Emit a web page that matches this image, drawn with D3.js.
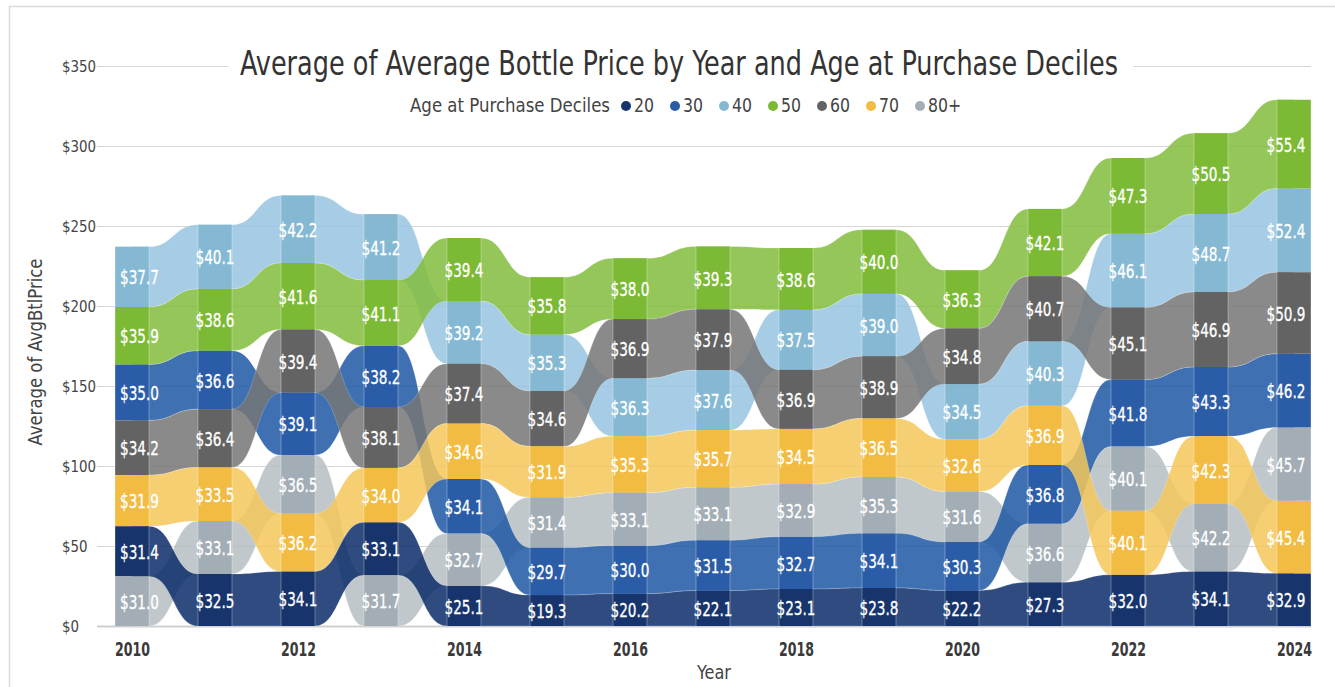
<!DOCTYPE html>
<html>
<head>
<meta charset="utf-8">
<script src="https://cdn.jsdelivr.net/npm/d3@7"></script>
<style>
  body { margin: 0; background: #fff; }
  text { font-family: "Liberation Sans Narrow", "DejaVu Sans Condensed", "Arial Narrow", sans-serif; }
</style>
</head>
<body>
<div id="chart"></div>
<script>
// Data
var years = [2010, 2011, 2012, 2013, 2014, 2015, 2016, 2017, 2018, 2019, 2020, 2021, 2022, 2023, 2024];
var deciles = ["20", "30", "40", "50", "60", "70", "80+"];
var price20  = [31.4, 32.5, 34.1, 33.1, 25.1, 19.3, 20.2, 22.1, 23.1, 23.8, 22.2, 27.3, 32.0, 34.1, 32.9];
var price30  = [35.0, 36.6, 39.1, 38.2, 34.1, 29.7, 30.0, 31.5, 32.7, 34.1, 30.3, 36.8, 41.8, 43.3, 46.2];
var price40  = [37.7, 40.1, 42.2, 41.2, 39.2, 35.3, 36.3, 37.6, 37.5, 39.0, 34.5, 40.3, 46.1, 48.7, 52.4];
var price50  = [35.9, 38.6, 41.6, 41.1, 39.4, 35.8, 38.0, 39.3, 38.6, 40.0, 36.3, 42.1, 47.3, 50.5, 55.4];
var price60  = [34.2, 36.4, 39.4, 38.1, 37.4, 34.6, 36.9, 37.9, 36.9, 38.9, 34.8, 40.7, 45.1, 46.9, 50.9];
var price70  = [31.9, 33.5, 36.2, 34.0, 34.6, 31.9, 35.3, 35.7, 34.5, 36.5, 32.6, 36.9, 40.1, 42.3, 45.4];
var price80p = [31.0, 33.1, 36.5, 31.7, 32.7, 31.4, 33.1, 33.1, 32.9, 35.3, 31.6, 36.6, 40.1, 42.2, 45.7];
var yTicks = [0, 50, 100, 150, 200, 250, 300, 350];
var xTicks = [2010, 2012, 2014, 2016, 2018, 2020, 2022, 2024];

var values = [price20, price30, price40, price50, price60, price70, price80p];

// Colours
var barColor    = ["#17346c", "#2a5ca8", "#85b9d3", "#7cb934", "#636363", "#f2bb41", "#a3adb5"];
var ribbonColor = ["#0a2c68", "#1d57a3", "#96c4e0", "#82bc3d", "#757575", "#f3c759", "#b5bec3"];
var ribbonOrder = [2, 6, 1, 3, 4, 5, 0]; // last drawn sits on top

var W = 1335, H = 687;
var left = 97, right = 1311, barW = 34;

var svg = d3.select("#chart").append("svg")
    .attr("width", W)
    .attr("height", H);

// squeeze text horizontally to a condensed look
function squeeze(sel, target) {
    sel.each(function() {
        var w = this.getComputedTextLength();
        d3.select(this).attr("textLength", typeof target === "function" ? target(w) : target)
            .attr("lengthAdjust", "spacingAndGlyphs");
    });
}
function ratio(sample, size, weight, target) {
    var t = svg.append("text").style("font-size", size + "px").style("font-weight", weight).text(sample);
    var w = t.node().getComputedTextLength();
    t.remove();
    return target / w;
}

// frame
svg.append("rect")
    .attr("x", 9.5).attr("y", 6.5)
    .attr("width", 1340).attr("height", 700)
    .attr("fill", "none")
    .attr("stroke", "#dcdcdc")
    .attr("stroke-width", 1.5);

// Scales
var x = d3.scaleLinear().domain([2010, 2024]).range([132, 1294]);
var y = d3.scaleLinear().domain([0, 350]).range([626, 66]);

// Y axis with gridlines
var yr = ratio("$350", 16.5, "normal", 34);
var yAxis = svg.append("g")
    .attr("transform", "translate(" + left + ",0)")
    .call(d3.axisLeft(y).tickValues(yTicks).tickSize(-(right - left)).tickPadding(0)
        .tickFormat(d => "$" + d));
yAxis.select(".domain").remove();
yAxis.selectAll(".tick line")
    .attr("stroke", d => d === 0 ? "#cfcfcf" : "#d6d6d6")
    .attr("stroke-width", d => d === 0 ? 2 : 1);
yAxis.selectAll(".tick text")
    .attr("x", 62 - left)
    .attr("dy", "0.35em")
    .style("text-anchor", "start")
    .style("font-size", "16.5px")
    .style("fill", "#444")
    .call(squeeze, w => w * yr);

// Title (covers the top gridline)
svg.append("rect")
    .attr("x", 228).attr("y", 40).attr("width", 1133 - 228).attr("height", 45)
    .attr("fill", "#fff");
svg.append("text")
    .attr("x", 679).attr("y", 75)
    .attr("text-anchor", "middle")
    .style("font-size", "33px")
    .style("fill", "#333")
    .text("Average of Average Bottle Price by Year and Age at Purchase Deciles")
    .call(squeeze, 878);

// Stack per year, sorted ascending
var stacks = years.map((yr, i) => {
    var idx = d3.range(deciles.length).sort((a, b) => (values[a][i] - values[b][i]) || (a - b));
    var acc = 0, out = {};
    idx.forEach(k => {
        out[k] = { y0: acc, y1: acc + values[k][i], v: values[k][i] };
        acc += values[k][i];
    });
    return out;
});

// Ribbons
function ribbonPath(k) {
    var p = d3.path();
    var n = years.length;
    p.moveTo(x(years[0]), y(stacks[0][k].y1));
    for (var i = 0; i < n - 1; i++) {
        var xa = x(years[i]) + barW / 2, xb = x(years[i + 1]) - barW / 2, xm = (xa + xb) / 2;
        var ya = y(stacks[i][k].y1), yb = y(stacks[i + 1][k].y1);
        p.lineTo(xa, ya);
        p.bezierCurveTo(xm, ya, xm, yb, xb, yb);
        p.lineTo(x(years[i + 1]), yb);
    }
    p.lineTo(x(years[n - 1]), y(stacks[n - 1][k].y0));
    for (var j = n - 1; j > 0; j--) {
        var xa2 = x(years[j]) - barW / 2, xb2 = x(years[j - 1]) + barW / 2, xm2 = (xa2 + xb2) / 2;
        var ya2 = y(stacks[j][k].y0), yb2 = y(stacks[j - 1][k].y0);
        p.lineTo(xa2, ya2);
        p.bezierCurveTo(xm2, ya2, xm2, yb2, xb2, yb2);
        p.lineTo(x(years[j - 1]), yb2);
    }
    p.closePath();
    return p.toString();
}

svg.append("g").selectAll("path")
    .data(ribbonOrder)
    .enter().append("path")
    .attr("d", k => ribbonPath(k))
    .attr("fill", k => ribbonColor[k])
    .attr("fill-opacity", 0.85)
    .attr("stroke", "#fff")
    .attr("stroke-opacity", 0.25)
    .attr("stroke-width", 0.8);

// Bars
var segs = [];
years.forEach((yr, i) => {
    d3.range(deciles.length).forEach(k => segs.push({ yr: yr, i: i, k: k, s: stacks[i][k] }));
});

svg.append("g").selectAll("rect")
    .data(segs)
    .enter().append("rect")
    .attr("x", d => x(d.yr) - barW / 2)
    .attr("y", d => y(d.s.y1))
    .attr("width", barW)
    .attr("height", d => y(d.s.y0) - y(d.s.y1))
    .attr("fill", d => barColor[d.k]);

// faint bar edges
var edges = svg.append("g");
years.forEach((yr, i) => {
    var top = d3.max(d3.range(deciles.length), k => stacks[i][k].y1);
    [-barW / 2, barW / 2].forEach(dx => {
        edges.append("line")
            .attr("x1", x(yr) + dx).attr("x2", x(yr) + dx)
            .attr("y1", y(top)).attr("y2", y(0))
            .attr("stroke", "#fff").attr("stroke-opacity", 0.3).attr("stroke-width", 1);
    });
});

// Data labels
var lr = ratio("$31.4", 19, "normal", 39);
svg.append("g").selectAll("text")
    .data(segs)
    .enter().append("text")
    .attr("x", d => x(d.yr) + (d.i === 0 ? 7.5 : d.i === years.length - 1 ? -8 : 0))
    .attr("y", d => y((d.s.y0 + d.s.y1) / 2) + 1)
    .attr("dy", "0.35em")
    .attr("text-anchor", "middle")
    .style("font-size", "19px")
    .style("fill", "#fff")
    .style("stroke", "#fff")
    .style("stroke-width", 0.3)
    .text(d => "$" + d.s.v.toFixed(1))
    .call(squeeze, w => w * lr);

// X axis
var xr = ratio("2010", 19, "bold", 35);
var xAxis = svg.append("g")
    .attr("transform", "translate(0,626)")
    .call(d3.axisBottom(x).tickValues(xTicks).tickSize(0).tickPadding(0).tickFormat(d3.format("d")));
xAxis.select(".domain").remove();
xAxis.selectAll(".tick text")
    .attr("y", 23)
    .attr("dy", "0.35em")
    .style("font-size", "19px")
    .style("font-weight", "bold")
    .style("fill", "#3a3a3a")
    .call(squeeze, w => w * xr);

// Axis titles
svg.append("text")
    .attr("transform", "translate(42,352) rotate(-90)")
    .attr("text-anchor", "middle")
    .style("font-size", "19px")
    .style("fill", "#444")
    .text("Average of AvgBtlPrice")
    .call(squeeze, 187);

svg.append("text")
    .attr("x", 714).attr("y", 679)
    .attr("text-anchor", "middle")
    .style("font-size", "20px")
    .style("fill", "#444")
    .text("Year")
    .call(squeeze, 34);

// Legend
var legend = svg.append("g").attr("transform", "translate(410,112)");
legend.append("text")
    .attr("x", 0).attr("y", 0)
    .style("font-size", "20px")
    .style("fill", "#444")
    .text("Age at Purchase Deciles")
    .call(squeeze, 200);
var gr = ratio("20", 20, "normal", 20);
var lx = 212;
deciles.forEach((d, k) => {
    legend.append("circle")
        .attr("cx", lx + 4).attr("cy", -6).attr("r", 5)
        .attr("fill", barColor[k]);
    var t = legend.append("text")
        .attr("x", lx + 12).attr("y", 0)
        .style("font-size", "20px")
        .style("fill", "#444")
        .text(d);
    var w = t.node().getComputedTextLength() * gr;
    t.attr("textLength", w).attr("lengthAdjust", "spacingAndGlyphs");
    lx += 12 + w + 17;
});
</script>
</body>
</html>
